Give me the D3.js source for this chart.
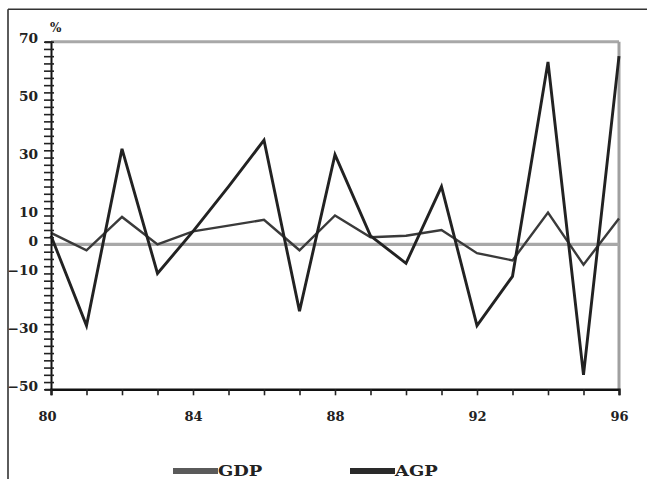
<!DOCTYPE html>
<html>
<head>
<meta charset="utf-8">
<script src="https://cdn.jsdelivr.net/npm/d3@7"></script>
<style>
  html, body { margin: 0; padding: 0; background: #fff; }
  svg { display: block; }
  text { font-family: "DejaVu Serif", "Liberation Serif", serif; font-weight: bold; fill: #222; }
</style>
</head>
<body>
<svg id="chart" width="647" height="479"></svg>
<script>
// ---- data ----
const years = [1980,1981,1982,1983,1984,1985,1986,1987,1988,1989,1990,1991,1992,1993,1994,1995,1996];
const agp   = [3, -28, 33, -10, 4.5, 20, 36, -23, 31, 3, -6.5, 20, -28, -11, 63, -45, 65];
const gdp   = [4, -2, 9.5, 0, 4.5, 6.5, 8.5, -2, 10, 2.5, 3, 5, -3, -5.5, 11, -7, 9];
const yLabelValues = [70, 50, 30, 10, 0, -10, -30, -50];
const xLabelYears = [1980, 1984, 1988, 1992, 1996];
const yUnit = "%";
const seriesNames = ["GDP", "AGP"];

// ---- layout ----
const svg = d3.select("#chart");
const mLeft = 51, mRight = 619, mTop = 41.7, mBottom = 389.3;
const FONT = "DejaVu Serif, Liberation Serif, serif";

const x = d3.scaleLinear().domain([1980, 1996]).range([mLeft, mRight]);
const y = d3.scaleLinear().domain([-50, 70]).range([mBottom, mTop]);

// outer frame (top and left)
svg.append("line").attr("x1", 8).attr("x2", 647).attr("y1", 9.3).attr("y2", 9.3)
  .attr("stroke", "#333").attr("stroke-width", 1.6);
svg.append("line").attr("x1", 8).attr("x2", 8).attr("y1", 9.3).attr("y2", 479)
  .attr("stroke", "#333").attr("stroke-width", 1.6);

// top line at 70, right border, zero line
svg.append("line").attr("x1", mLeft).attr("x2", mRight).attr("y1", y(70)).attr("y2", y(70))
  .attr("stroke", "#a8a8a8").attr("stroke-width", 3);
svg.append("line").attr("x1", mRight).attr("x2", mRight).attr("y1", y(70)).attr("y2", mBottom)
  .attr("stroke", "#a0a0a0").attr("stroke-width", 3);
svg.append("line").attr("x1", mLeft).attr("x2", mRight).attr("y1", y(0)).attr("y2", y(0))
  .attr("stroke", "#a8a8a8").attr("stroke-width", 3.2);

// series lines
const line = d3.line().x((d, i) => x(years[i])).y(d => y(d));
svg.append("path").datum(gdp).attr("d", line)
  .attr("fill", "none").attr("stroke", "#3a3a3a").attr("stroke-width", 2.4)
  .attr("stroke-linejoin", "miter");
svg.append("path").datum(agp).attr("d", line)
  .attr("fill", "none").attr("stroke", "#222").attr("stroke-width", 2.9)
  .attr("stroke-linejoin", "miter");

// y axis
const minorTicks = d3.range(-50, 70.01, 2.5);
const yAxis = d3.axisLeft(y).tickValues(minorTicks).tickSize(6)
  .tickFormat(d => yLabelValues.includes(d) ? d3.format("d")(d) : "");
const gy = svg.append("g").attr("transform", `translate(${mLeft},0)`).call(yAxis);
gy.select(".domain").attr("stroke", "#111").attr("stroke-width", 2);
gy.selectAll(".tick line").attr("stroke", "#222").attr("stroke-width", 1.6).attr("x1", 3).attr("x2", -7);
gy.selectAll(".tick text")
  .attr("x", null)
  .attr("transform", "translate(-13,0) scale(1.1,1)")
  .attr("dy", "0.1em")
  .style("font-size", "12.5px").style("font-family", FONT).style("font-weight", "bold").attr("fill", "#222");

// x axis
const xAxis = d3.axisBottom(x).tickValues(years).tickSize(6)
  .tickFormat(d => xLabelYears.includes(d) ? String(d).slice(2) : "");
const gx = svg.append("g").attr("transform", `translate(0,${mBottom})`).call(xAxis);
gx.select(".domain").attr("stroke", "#111").attr("stroke-width", 2.4);
gx.selectAll(".tick line").attr("stroke", "#222").attr("stroke-width", 1.6);
gx.selectAll(".tick text").attr("y", 27).attr("dy", "0.35em")
  .style("font-size", "13px").style("font-family", FONT).style("font-weight", "bold").attr("fill", "#222")
  .attr("dx", d => d === 1980 ? -4 : 0);

// unit label
svg.append("text").attr("x", 50).attr("y", 32).text(yUnit)
  .style("font-size", "12px").style("font-family", FONT).attr("fill", "#222");

// legend
const legend = [
  { name: seriesNames[0], color: "#5a5a5a", x0: 173 },
  { name: seriesNames[1], color: "#2a2a2a", x0: 350 }
];
legend.forEach(l => {
  svg.append("rect").attr("x", l.x0).attr("y", 468).attr("width", 45).attr("height", 6)
    .attr("fill", l.color);
  svg.append("text").attr("transform", `translate(${l.x0 + 45},475.5) scale(1.28,1)`).text(l.name)
    .style("font-size", "14px").style("font-family", FONT).attr("fill", "#222");
});
</script>
</body>
</html>
